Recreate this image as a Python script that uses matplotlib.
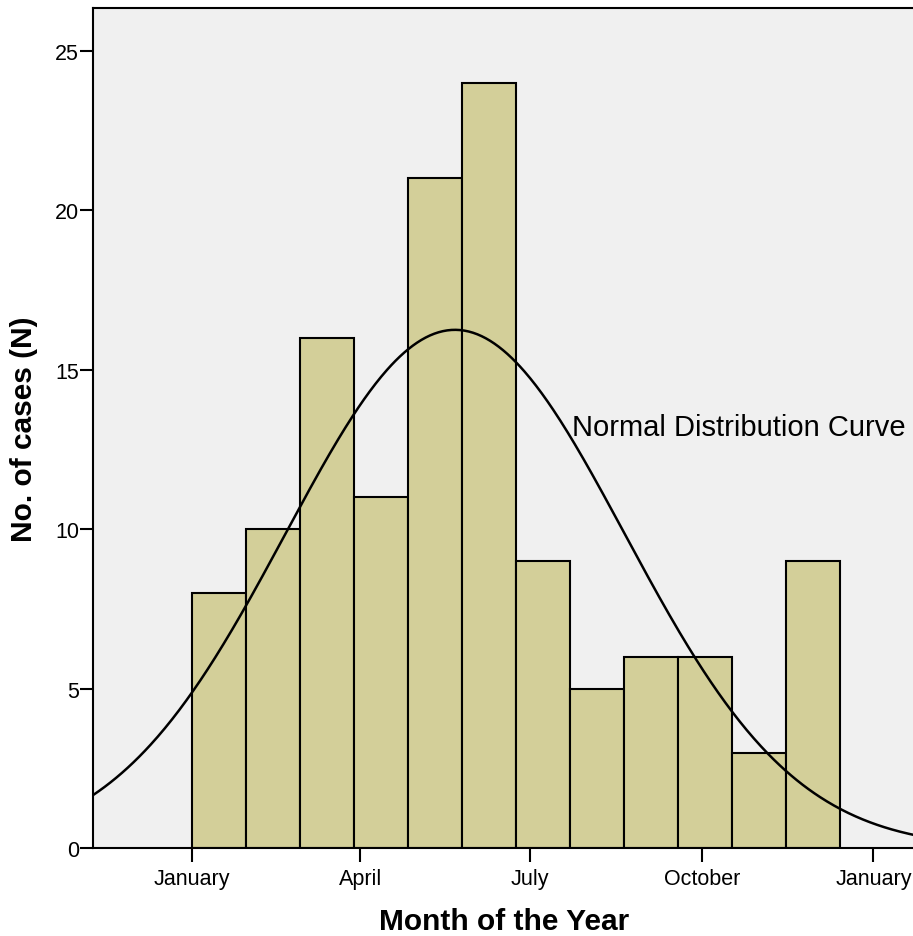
import numpy as np
import matplotlib
matplotlib.use("Agg")
import matplotlib.pyplot as plt

plt.rcParams['font.family'] = ['Liberation Sans', 'DejaVu Sans']

# monthly case counts, Jan..Dec
months = ['Jan', 'Feb', 'Mar', 'Apr', 'May', 'Jun',
          'Jul', 'Aug', 'Sep', 'Oct', 'Nov', 'Dec']
cases = [8, 10, 16, 11, 21, 24, 9, 5, 6, 6, 3, 9]

# x axis runs in day-of-year
tick_days = [0, 90, 181, 273, 365]
tick_labels = ['January', 'April', 'July', 'October', 'January']
bin_width = 28.93

# fitted normal curve (day-of-year)
curve_mean = 140.8
curve_sd = 90.9

fig = plt.figure(figsize=(9.13, 9.37), dpi=100)
ax = fig.add_axes([0.10186, 0.09360, 0.89814, 0.89679])
ax.set_facecolor('#f0f0f0')

left_edges = np.arange(len(cases)) * bin_width
ax.bar(left_edges, cases, width=bin_width, align='edge',
       color='#d3cf99', edgecolor='black', linewidth=1.5, zorder=2)

n_total = sum(cases)
xs = np.linspace(-60, 400, 600)
ys = n_total * bin_width / (curve_sd * np.sqrt(2 * np.pi)) * \
    np.exp(-0.5 * ((xs - curve_mean) / curve_sd) ** 2)
ax.plot(xs, ys, color='black', linewidth=1.8, zorder=3)

ax.text(203.5, 12.97, 'Normal Distribution Curve', fontsize=21,
        ha='left', va='baseline', zorder=4)

ax.set_xlim(-53.2, 386.2)
ax.set_ylim(0, 26.34)
ax.set_xticks(tick_days)
ax.set_xticklabels(tick_labels)
ax.set_yticks([0, 5, 10, 15, 20, 25])

ax.tick_params(axis='y', length=9.5, width=1.5, pad=0.5, labelsize=15.5)
ax.tick_params(axis='x', length=10, width=1.5, pad=4, labelsize=15.5)

for side in ['left', 'bottom', 'top']:
    ax.spines[side].set_linewidth(1.5)
ax.spines['right'].set_visible(False)

fig.text(0.5526, 0.016, 'Month of the Year', fontsize=21.5,
         fontweight='bold', ha='center', va='center')
fig.text(0.0263, 0.542, 'No. of cases (N)', fontsize=21.5,
         fontweight='bold', ha='center', va='center', rotation=90)

fig.savefig('out.png', dpi=100)
